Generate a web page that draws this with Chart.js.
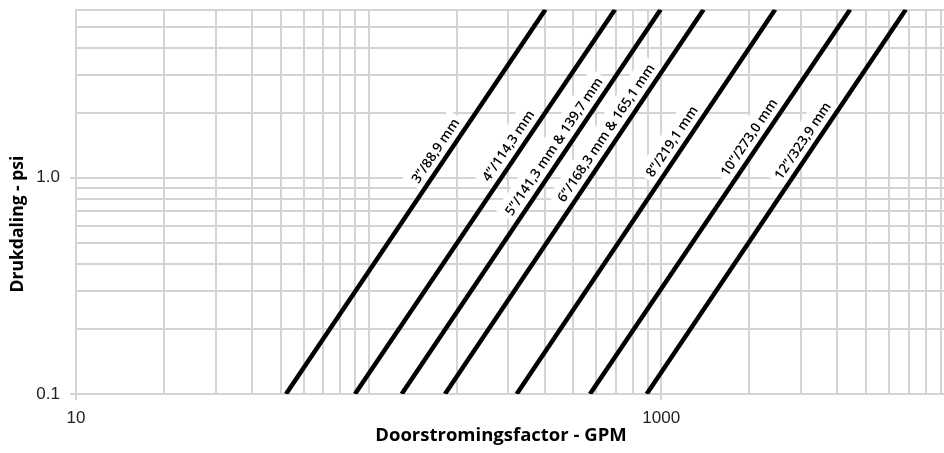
<!DOCTYPE html>
<html>
<head>
<meta charset="utf-8">
<script src="https://cdn.jsdelivr.net/npm/chart.js@4/dist/chart.umd.min.js"></script>
<style>
html,body{margin:0;padding:0;background:#fff;overflow:hidden}
canvas{display:block}
</style>
</head>
<body>
<canvas id="c" width="944" height="453"></canvas>
<script>
// ---- data ----
const pipeLabels = ['3\u201d/88,9 mm', '4\u201d/114,3 mm', '5\u201d/141,3 mm & 139,7 mm', '6\u201d/168,3 mm & 165,1 mm', '8\u201d/219,1 mm', '10\u201d/273,0 mm', '12\u201d/323,9 mm'];
const pressureEnds = [0.1, 6];                                   // psi at both ends of every line
const flowAtLow  = [52.2, 89.8, 129.7, 182.4, 320.6, 570.7, 891.5]; // GPM at 0.1 psi
const flowAtHigh = [402, 695, 995, 1395, 2450, 4420, 6850];        // GPM at 6 psi
const labelPressure = [1.24, 1.31, 1.30, 1.50, 1.37, 1.43, 1.38];  // psi where each line label sits
const xGridValues = [10,20,30,40,50,60,70,80,90,100,200,300,400,500,600,700,800,900,1000,2000,3000,4000,5000,6000,7000,8000,9000];
const yGridValues = [0.1,0.2,0.3,0.4,0.5,0.6,0.7,0.8,0.9,1,2,3,4,5,6];
const xTickLabels = {10: '10', 1000: '1000'};
const yTickLabels = {0.1: '0.1', 1: '1.0'};
const xTitle = 'Doorstromingsfactor - GPM';
const yTitle = 'Drukdaling - psi';

const GRID = '#d4d4d4';
const TICKFONT = {family: '"Liberation Sans Narrow", "Liberation Sans", sans-serif', size: 17, lineHeight: 1.1};

const lineLabelPlugin = {
  id: 'lineLabels',
  beforeDatasetsDraw(chart) {
    const {ctx, scales: {x, y}} = chart;
    chart.data.datasets.forEach((ds, i) => {
      const x0 = x.getPixelForValue(ds.data[0].x), y0 = y.getPixelForValue(ds.data[0].y);
      const x1 = x.getPixelForValue(ds.data[1].x), y1 = y.getPixelForValue(ds.data[1].y);
      const py = y.getPixelForValue(labelPressure[i]);
      const t = (py - y0) / (y1 - y0);
      const px = x0 + t * (x1 - x0);
      const len = Math.hypot(x1 - x0, y1 - y0);
      const ux = (x1 - x0) / len, uy = (y1 - y0) / len;
      const nx = uy, ny = -ux;
      const off = 12.5;
      ctx.save();
      ctx.translate(px + nx * off, py + ny * off);
      ctx.rotate(Math.atan2(uy, ux));
      ctx.font = '600 13.5px "Open Sans", sans-serif';
      const w = ctx.measureText(ds.label).width;
      ctx.fillStyle = '#fff';
      ctx.fillRect(-w / 2 - 4, -12, w + 8, 24);
      ctx.fillStyle = '#000';
      ctx.textAlign = 'center';
      ctx.textBaseline = 'middle';
      ctx.fillText(ds.label, 0, 1);
      ctx.restore();
    });
  }
};

const axisTitlePlugin = {
  id: 'axisTitles',
  afterDraw(chart) {
    const {ctx, chartArea: a} = chart;
    ctx.save();
    ctx.fillStyle = '#000';
    ctx.font = 'bold 18.5px "Open Sans", sans-serif';
    ctx.textAlign = 'center';
    ctx.textBaseline = 'middle';
    ctx.fillText(xTitle, a.left + 425, a.bottom + 42);
    ctx.font = 'bold 17.5px "Open Sans", sans-serif';
    ctx.translate(18, a.bottom - 170);
    ctx.rotate(-Math.PI / 2);
    ctx.fillText(yTitle, 0, 0);
    ctx.restore();
  }
};

new Chart(document.getElementById('c'), {
  type: 'line',
  data: {
    datasets: pipeLabels.map((lab, i) => ({
      label: lab,
      data: [{x: flowAtLow[i], y: pressureEnds[0]}, {x: flowAtHigh[i], y: pressureEnds[1]}],
      borderColor: '#000',
      borderWidth: 4.5,
      pointRadius: 0,
      fill: false,
      tension: 0,
      clip: 0
    }))
  },
  options: {
    responsive: false,
    animation: false,
    layout: {autoPadding: false, padding: {top: 9.5, right: 0, bottom: 0, left: 0}},
    plugins: {legend: {display: false}, tooltip: {enabled: false}},
    scales: {
      x: {
        type: 'logarithmic',
        min: 10,
        max: 9250,
        afterBuildTicks: s => { s.ticks = xGridValues.map(v => ({value: v})); },
        afterFit: s => { s.height = 59; s.paddingLeft = 0; s.paddingRight = 0; },
        ticks: {autoSkip: false, maxRotation: 0, color: '#222', font: TICKFONT, padding: 9,
                callback: v => xTickLabels[v] || ''},
        grid: {color: GRID, lineWidth: 2, tickLength: 6,
               tickColor: c => (c.tick && xTickLabels[c.tick.value]) ? GRID : 'rgba(0,0,0,0)'},
        border: {color: GRID, width: 2}
      },
      y: {
        type: 'logarithmic',
        min: 0.1,
        max: 6,
        afterBuildTicks: s => { s.ticks = yGridValues.map(v => ({value: v})); },
        afterFit: s => { s.width = 76; s.paddingTop = 0; s.paddingBottom = 0; },
        ticks: {autoSkip: false, color: '#222', font: TICKFONT, padding: 10,
                callback: v => yTickLabels[v] || ''},
        grid: {color: GRID, lineWidth: 2, tickLength: 6,
               tickColor: c => (c.tick && yTickLabels[c.tick.value]) ? GRID : 'rgba(0,0,0,0)'},
        border: {color: GRID, width: 2}
      }
    }
  },
  plugins: [lineLabelPlugin, axisTitlePlugin]
});
</script>
</body>
</html>
